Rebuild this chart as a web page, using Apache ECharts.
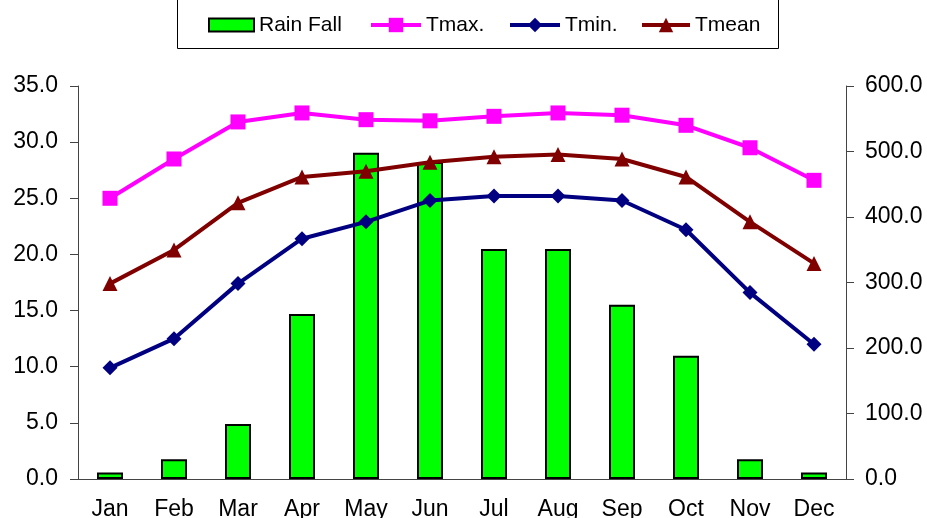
<!DOCTYPE html>
<html>
<head>
<meta charset="utf-8">
<script src="https://cdn.jsdelivr.net/npm/echarts@6/dist/echarts.min.js"></script>
<style>html,body{margin:0;padding:0;background:#fff;}#c{width:927px;height:518px;}</style>
</head>
<body>
<div id="c"></div>
<script>
const months = ['Jan','Feb','Mar','Apr','May','Jun','Jul','Aug','Sep','Oct','Nov','Dec'];
const rainFall = [10, 30, 84, 252, 498, 484, 351, 351, 266, 188, 30, 10];
const tMax = [25.0, 28.5, 31.8, 32.6, 32.0, 31.9, 32.3, 32.6, 32.4, 31.5, 29.5, 26.6];
const tMin = [9.9, 12.5, 17.4, 21.4, 22.9, 24.8, 25.2, 25.2, 24.8, 22.2, 16.6, 12.0];
const tMean = [17.4, 20.4, 24.6, 26.9, 27.4, 28.2, 28.7, 28.9, 28.5, 26.9, 22.9, 19.2];

const FONT = 'Liberation Sans, Arial, sans-serif';
const chart = echarts.init(document.getElementById('c'), null, {renderer: 'canvas'});
const legTxt = {fontFamily: FONT, fontSize: 21, color: '#000'};
function leg(name, left, w, h, icon) {
  const o = {data: [{name: name}], left: left, top: 14.5, itemWidth: w, itemHeight: h, itemGap: 0,
    textStyle: legTxt, selectedMode: false, padding: 0, lineStyle: {width: 4}};
  if (icon) o.data[0].icon = icon;
  return o;
}
chart.setOption({
  animation: false,
  backgroundColor: '#fff',
  graphic: [{type: 'rect', shape: {x: 177.5, y: -5, width: 601, height: 53.5},
    style: {fill: 'none', stroke: '#000', lineWidth: 1}}],
  legend: [
    leg('Rain Fall', 208, 45, 13, 'rect'),
    leg('Tmax.', 369, 50, 18),
    leg('Tmin.', 508, 50, 18),
    leg('Tmean', 640, 48, 18)
  ],
  grid: {left: 78, right: 81, top: 86, bottom: 39, containLabel: false, outerBoundsMode: 'none'},
  xAxis: {
    type: 'category', data: months, boundaryGap: true,
    axisLine: {lineStyle: {color: '#444', width: 1}},
    axisTick: {length: 8, lineStyle: {color: '#444'}},
    axisLabel: {fontFamily: FONT, fontSize: 23, color: '#000', margin: 19}
  },
  yAxis: [{
    type: 'value', min: 0, max: 35, interval: 5,
    axisLine: {show: true, lineStyle: {color: '#444'}},
    axisTick: {show: true, length: 8, lineStyle: {color: '#444'}},
    splitLine: {show: false},
    axisLabel: {fontFamily: FONT, fontSize: 23, color: '#000', margin: 20,
      formatter: v => v.toFixed(1)}
  }, {
    type: 'value', min: 0, max: 600, interval: 100, position: 'right',
    axisLine: {show: true, lineStyle: {color: '#444'}},
    axisTick: {show: true, length: 8, lineStyle: {color: '#444'}},
    splitLine: {show: false},
    axisLabel: {fontFamily: FONT, fontSize: 23, color: '#000', margin: 19,
      formatter: v => v.toFixed(1)}
  }],
  series: [{
    name: 'Rain Fall', type: 'bar', yAxisIndex: 1, data: rainFall, barWidth: 26,
    itemStyle: {color: '#00FF00', borderColor: '#000', borderWidth: 2}
  }, {
    name: 'Tmax.', type: 'line', data: tMax, symbol: 'rect', symbolSize: 15,
    lineStyle: {color: '#FF00FF', width: 4}, itemStyle: {color: '#FF00FF'}, z: 3
  }, {
    name: 'Tmin.', type: 'line', data: tMin, symbol: 'diamond', symbolSize: 15,
    lineStyle: {color: '#000080', width: 4}, itemStyle: {color: '#000080'}, z: 3
  }, {
    name: 'Tmean', type: 'line', data: tMean, symbol: 'triangle', symbolSize: 15,
    lineStyle: {color: '#800000', width: 4}, itemStyle: {color: '#800000'}, z: 3
  }]
});
</script>
</body>
</html>
